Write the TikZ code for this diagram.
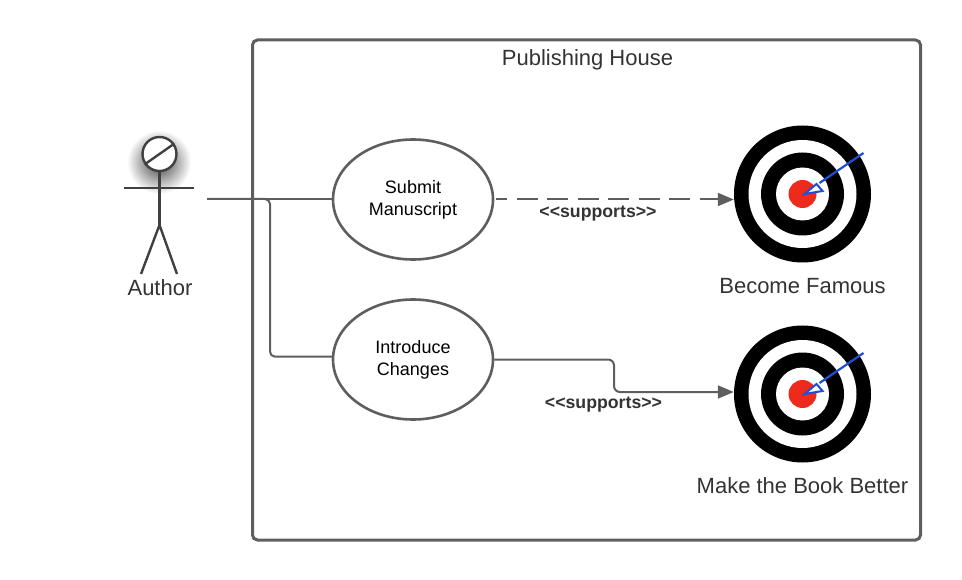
\documentclass[tikz,border=0pt]{standalone}
\usepackage{fontspec}
\setmainfont{Liberation Sans}
\usetikzlibrary{arrows.meta,positioning,shapes.geometric}
\definecolor{linegray}{HTML}{5E5E5E}
\definecolor{textgray}{HTML}{333333}
\definecolor{arrowblue}{HTML}{1F4FD8}
\definecolor{bullred}{HTML}{EE2A1B}
\tikzset{
  usecase/.style={draw=linegray,line width=2.6pt,ellipse,minimum width=160pt,minimum height=120pt,inner sep=0pt,align=center,font=\fontsize{18}{22}\selectfont},
  conn/.style={draw=linegray,line width=2pt},
  tip/.style={-{Triangle[length=16pt,width=13pt]}},
  bigtext/.style={text=textgray,font=\fontsize{22}{26}\selectfont},
  supports/.style={text=textgray,font=\fontsize{17.7}{20}\selectfont\bfseries},
  stick/.style={draw=black!75,line width=2.4pt}
}
\begin{document}
\begin{tikzpicture}[x=1pt,y=-1pt]
  \useasboundingbox (0,0) rectangle (962,580);
  \node[draw=linegray,line width=3pt,rounded corners=5pt,minimum width=668pt,minimum height=500pt,inner sep=0pt] (house) at (586.5,290) {};
  \node[bigtext] (housetitle) at (587.5,60) {Publishing House};

  % actor
  \shade[inner color=black!75,outer color=white] (159,162) circle (32);
  \node[circle,fill=white,stick,minimum size=34pt,inner sep=0pt] (head) at (159.5,154) {};
  \draw[stick] (head.35) -- (head.215);
  \coordinate (neck) at (head.south);
  \coordinate (hip) at (159.5,225);
  \coordinate (shoulderl) at (124,188);
  \coordinate (shoulderr) at (194,188);
  \coordinate (footl) at (141,274);
  \coordinate (footr) at (177,274);
  \draw[stick] (neck) -- (hip);
  \draw[stick] (shoulderl) -- (shoulderr);
  \draw[stick] (footl) -- (hip) -- (footr);
  \node[bigtext] (author) at (160,287.5) {Author};

  \node[usecase] (submit) at (413,199.5) {\raisebox{1pt}{Submit}\\\raisebox{1pt}{Manuscript}};
  \node[usecase] (intro) at (413,359.5) {\raisebox{1pt}{Introduce}\\\raisebox{1pt}{Changes}};

  % targets
  \foreach \goalname/\ypos/\goaltitle/\gap in {famous/194/Become Famous/12.5,better/394/Make the Book Better/11.5}{
    \node[circle,fill=black,minimum size=137pt,inner sep=0pt] (\goalname) at (802.5,\ypos) {};
    \fill[white] (\goalname) circle (54);
    \fill[black] (\goalname) circle (41.5);
    \fill[white] (\goalname) circle (26.5);
    \fill[bullred] (\goalname) circle (14);
    \draw[arrowblue,line width=2.2pt] ([shift={(61,-41)}]\goalname.center) -- ([shift={(17,-11)}]\goalname.center);
    \draw[arrowblue,line width=2pt,fill=white] ([shift={(2,0)}]\goalname.center) -- ([shift={(14,-10)}]\goalname.center) -- ([shift={(20,-3)}]\goalname.center) -- cycle;
    \node[bigtext,below=\gap pt of \goalname] (\goalname text) {\goaltitle};
  }

  % connectors
  \coordinate (authorend) at (207,199);
  \draw[conn] (authorend) -- (submit.west |- authorend);
  \draw[conn,rounded corners=5pt] (authorend) -- (270,199) |- (intro.178);
  \draw[conn,tip,dash pattern=on 21pt off 9.5pt,dash phase=10pt] ([xshift=2pt]submit.east) -- (famous.west |- submit.east);
  \draw[conn,tip,rounded corners=6pt] (intro.east) -- (614,359.5) |- (better.west |- 0,392);
  \node[supports] (supportsone) at (598,214) {{<}{<}supports{>}{>}};
  \node[supports] (supportstwo) at (603.5,405) {{<}{<}supports{>}{>}};
\end{tikzpicture}
\end{document}
